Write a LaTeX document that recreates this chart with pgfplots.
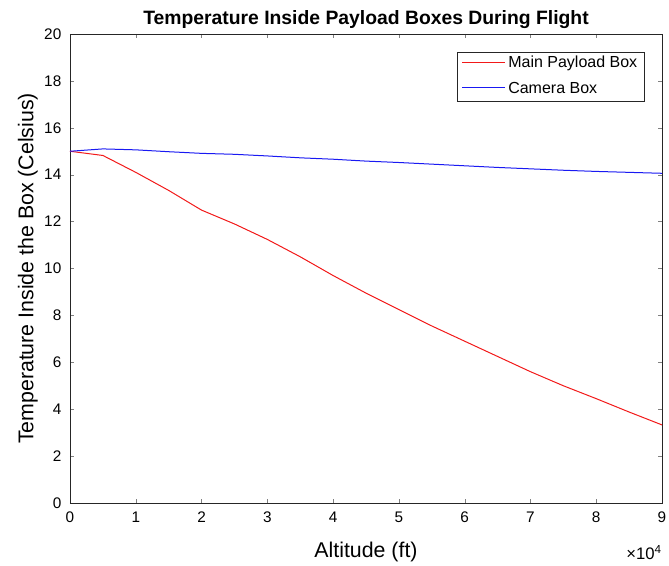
\documentclass[border=0pt]{standalone}
\usepackage{fontspec}
\setmainfont{Liberation Sans}
\usepackage{pgfplots}
\pgfplotsset{compat=1.18}
\usetikzlibrary{calc}
\definecolor{axgray}{gray}{0.15}
\definecolor{mred}{rgb}{0.95,0.1,0.1}
\definecolor{mblue}{rgb}{0.1,0.1,0.95}
\begin{document}
\begin{tikzpicture}
\begin{axis}[
  name=ax,
  scale only axis,
  width=444pt, height=351.75pt,
  xmin=0, xmax=90000, ymin=0, ymax=20,
  xtick={0,10000,...,90000},
  ytick={0,2,...,20},
  tick pos=both, tick align=inside,
  major tick length=3pt,
  axis line style={axgray, line width=0.6pt},
  /pgf/number format/assume math mode=true,
  tick label style={font=\fontsize{11.5}{11.5}\selectfont},
  xticklabel style={yshift=-3pt},
  yticklabel style={xshift=-3pt},
  scaled x ticks=base 10:-4,
  xtick scale label code/.code={\fontsize{12.5}{12.5}\selectfont ×10\textsuperscript{4}},
  every x tick scale label/.style={at={(axis description cs:1,-0.112)}, anchor=base east, inner sep=0pt},
  xlabel={Altitude (ft)},
  ylabel={Temperature Inside the Box (Celsius)},
  label style={font=\fontsize{16}{16}\selectfont},
  xlabel style={at={(axis description cs:0.5,-0.1045)}, anchor=center},
  ylabel style={at={(axis description cs:-0.071,0.5)}, anchor=center},
  title={Temperature Inside Payload Boxes During Flight},
  title style={font=\bfseries\fontsize{14.5}{14.5}\selectfont, at={(axis description cs:0.5,1)}, anchor=base, yshift=1pt},
  clip=false,
]
\addplot[color=mred, line width=0.75pt] coordinates {
(0,15) (5000,14.82) (10000,14.1) (15000,13.33) (20000,12.49) (25000,11.9)
(30000,11.24) (35000,10.5) (40000,9.7) (45000,8.95) (50000,8.25) (55000,7.55)
(60000,6.9) (65000,6.25) (70000,5.6) (75000,5.0) (80000,4.45) (85000,3.88) (90000,3.33)};
\addplot[color=mblue, line width=0.75pt] coordinates {
(0,15) (5000,15.1) (10000,15.06) (15000,14.98) (20000,14.91) (25000,14.87)
(30000,14.8) (35000,14.72) (40000,14.66) (45000,14.58) (50000,14.52) (55000,14.45)
(60000,14.38) (65000,14.31) (70000,14.25) (75000,14.19) (80000,14.14) (85000,14.1) (90000,14.06)};
% legend (drawn as a framed key in the upper right)
\draw[black!85, line width=0.6pt, fill=white] (rel axis cs:0.6537,0.8571) rectangle (rel axis cs:0.9696,0.9601);
\draw[mred, line width=0.75pt] (rel axis cs:0.6622,0.9382) -- (rel axis cs:0.7348,0.9382);
\node[anchor=west, inner sep=0pt, font=\fontsize{12}{12}\selectfont] at (rel axis cs:0.7399,0.9382) {Main Payload Box};
\draw[mblue, line width=0.75pt] (rel axis cs:0.6622,0.8849) -- (rel axis cs:0.7348,0.8849);
\node[anchor=west, inner sep=0pt, font=\fontsize{12}{12}\selectfont] at (rel axis cs:0.7399,0.8849) {Camera Box};
\end{axis}
\pgfresetboundingbox
\path ($(ax.south west)+(-52.5pt,-46.5pt)$) rectangle ($(ax.north east)+(5.25pt,25.5pt)$);
\end{tikzpicture}
\end{document}
